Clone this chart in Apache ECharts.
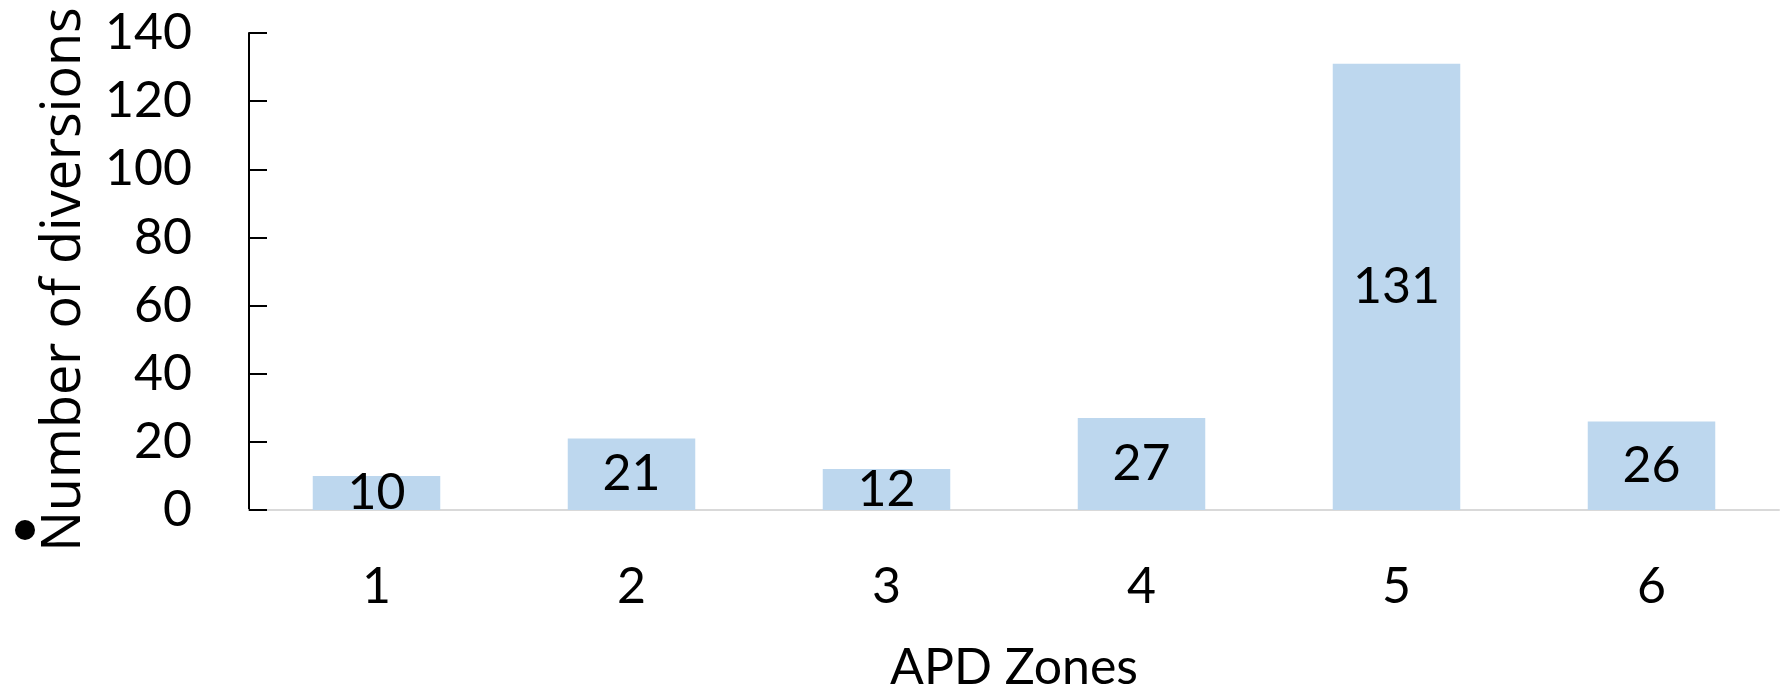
<!DOCTYPE html>
<html>
<head>
<meta charset="utf-8">
<script src="https://cdn.jsdelivr.net/npm/echarts@6/dist/echarts.min.js"></script>
<style>
  html, body { margin: 0; padding: 0; background: #fff; }
  #chart { width: 1782px; height: 689px; }
</style>
</head>
<body>
<div id="chart"></div>
<script>
const zones = ['1', '2', '3', '4', '5', '6']
const diversions = [10, 21, 12, 27, 131, 26]
const yTicks = { min: 0, max: 140, interval: 20 }

const font = 'Lato, "Open Sans", sans-serif'
const chart = echarts.init(document.getElementById('chart'))

const option = {
  backgroundColor: '#fff',
  animation: false,
  grid: { left: 249, right: 3, top: 33, bottom: 179, outerBoundsMode: 'none', containLabel: false },
  // bullet left over from the slide text box
  graphic: [
    { type: 'circle', shape: { cx: 25, cy: 530, r: 10 }, style: { fill: '#000' } },
  ],
  xAxis: {
    type: 'category',
    data: zones,
    name: 'APD Zones',
    nameLocation: 'middle',
    nameGap: 133,
    nameTextStyle: { color: '#000', fontSize: 50, fontFamily: font },
    axisLine: { lineStyle: { color: '#d9d9d9', width: 2 } },
    axisTick: { show: false },
    axisLabel: { color: '#000', fontSize: 50, fontFamily: font, margin: 52 },
  },
  yAxis: {
    type: 'value',
    min: yTicks.min,
    max: yTicks.max,
    interval: yTicks.interval,
    name: 'Number of diversions',
    nameLocation: 'middle',
    nameRotate: 90,
    nameGap: 157,
    // right padding pushes the rotated title down a little
    nameTextStyle: { color: '#000', fontSize: 54, fontFamily: '"Open Sans", sans-serif', padding: [0, 16, 0, 0] },
    axisLine: { show: true, lineStyle: { color: '#000', width: 2 } },
    axisTick: { show: true, inside: true, length: 18, lineStyle: { color: '#000', width: 2 } },
    axisLabel: { color: '#000', fontSize: 50, fontFamily: font, margin: 57 },
    splitLine: { show: false },
  },
  series: [
    {
      type: 'bar',
      data: diversions,
      barCategoryGap: '50%',
      itemStyle: { color: '#bdd7ee' },
      label: {
        show: true,
        position: 'inside',
        color: '#000',
        fontSize: 50,
        fontFamily: font,
      },
    },
  ],
}

chart.setOption(option)
</script>
</body>
</html>
